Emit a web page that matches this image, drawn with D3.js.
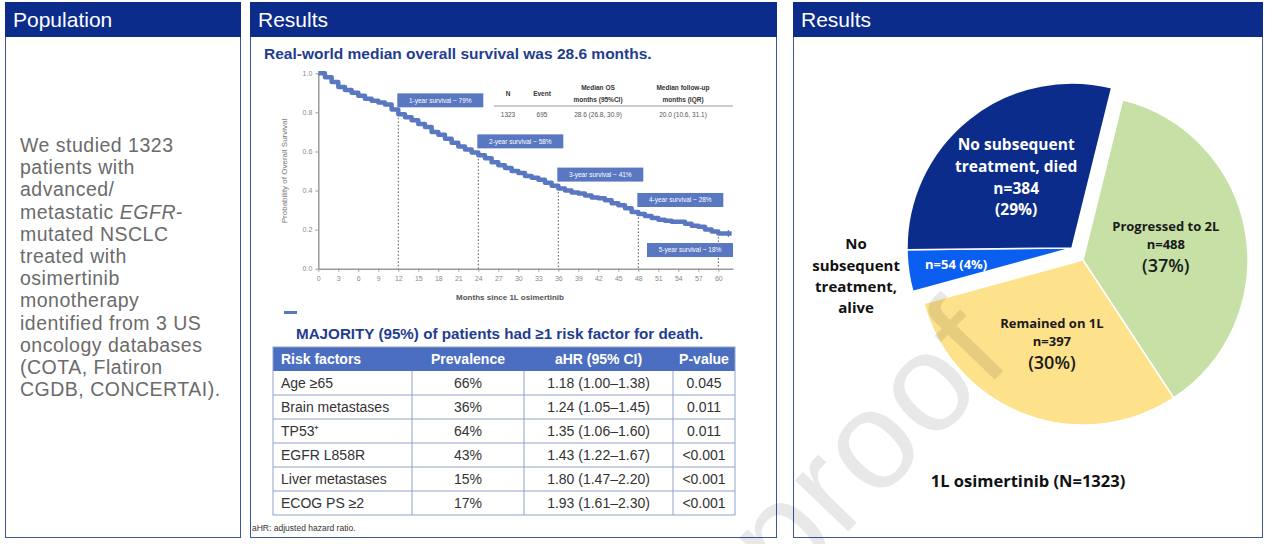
<!DOCTYPE html>
<html>
<head>
<meta charset="utf-8">
<script src="https://cdn.jsdelivr.net/npm/d3@7"></script>
<style>
  body { margin: 0; background: #fff; }
  svg { display: block; }
</style>
</head>
<body>
<div id="chart"></div>
<script>
// ---- data ----
const introLines = [
  "We studied 1323", "patients with", "advanced/", "metastatic EGFR-",
  "mutated NSCLC", "treated with", "osimertinib", "monotherapy",
  "identified from 3 US", "oncology databases", "(COTA, Flatiron",
  "CGDB, CONCERTAI)."
];

// Kaplan-Meier curve (month, survival probability)
const kmMonths = [0, 1, 2, 3, 4, 5, 6, 7, 8, 9, 10, 11, 12, 13, 14, 15, 16, 17, 18, 19, 20,
  21, 22, 23, 24, 25, 26, 27, 28, 29, 30, 31, 32, 33, 34, 35, 36, 37, 38, 39, 40, 41,
  42, 43, 44, 45, 46, 47, 48, 49, 50, 51, 52, 53, 54, 55, 56, 57, 58, 59, 60, 61, 62];
const kmSurv = [1.0, 0.98, 0.955, 0.93, 0.915, 0.90, 0.885, 0.87, 0.86, 0.85, 0.84, 0.815,
  0.79, 0.775, 0.76, 0.74, 0.725, 0.70, 0.685, 0.665, 0.645, 0.625, 0.61, 0.595, 0.58,
  0.565, 0.545, 0.53, 0.515, 0.50, 0.49, 0.475, 0.465, 0.455, 0.44, 0.425, 0.41, 0.40,
  0.39, 0.385, 0.375, 0.365, 0.36, 0.35, 0.335, 0.325, 0.31, 0.29, 0.28, 0.27, 0.26,
  0.25, 0.245, 0.24, 0.24, 0.23, 0.22, 0.215, 0.20, 0.19, 0.18, 0.18, 0.18];

const milestoneMonths = [12, 24, 36, 48, 60];
const milestoneLabels = ["1-year survival ~ 79%", "2-year survival ~ 58%", "3-year survival ~ 41%",
  "4-year survival ~ 28%", "5-year survival ~ 18%"];

const xTicks = d3.range(0, 61, 3);
const yTicks = [0, 0.2, 0.4, 0.6, 0.8, 1.0];

const summaryHead1 = ["N", "Event", "Median OS", "Median follow-up"];
const summaryHead2 = ["", "", "months (95%CI)", "months (IQR)"];
const summaryValues = ["1323", "695", "28.6 (26.8, 30.9)", "20.0 (10.6, 31.1)"];

const riskHeader = ["Risk factors", "Prevalence", "aHR (95% CI)", "P-value"];
const riskFactors = ["Age ≥65", "Brain metastases", "TP53⁺", "EGFR L858R", "Liver metastases", "ECOG PS ≥2"];
const prevalence = ["66%", "36%", "64%", "43%", "15%", "17%"];
const ahr = ["1.18 (1.00–1.38)", "1.24 (1.05–1.45)", "1.35 (1.06–1.60)", "1.43 (1.22–1.67)",
  "1.80 (1.47–2.20)", "1.93 (1.61–2.30)"];
const pValues = ["0.045", "0.011", "0.011", "<0.001", "<0.001", "<0.001"];

const pieGroups = ["Progressed to 2L", "Remained on 1L", "No subsequent treatment, alive", "No subsequent treatment, died"];
const pieCounts = [488, 397, 54, 384];
const pieTotal = 1323;

// ---- page ----
const W = 1280, H = 544;
const navy = "#0b2c8a";
const kmBlue = "#5a78c2";

const svg = d3.select("#chart").append("svg")
  .attr("width", W).attr("height", H)
  .style("font-family", "Arial, 'Liberation Sans', sans-serif");

// panels
const panels = [
  { x: 5, w: 235, title: "Population" },
  { x: 250, w: 526, title: "Results" },
  { x: 793, w: 469, title: "Results" }
];
panels.forEach(function (p) {
  svg.append("rect").attr("x", p.x + 0.5).attr("y", 2.5).attr("width", p.w).attr("height", 535)
    .attr("fill", "#fff").attr("stroke", "#3d5699").attr("stroke-width", 1);
  svg.append("rect").attr("x", p.x).attr("y", 2).attr("width", p.w + 1).attr("height", 35).attr("fill", navy);
  svg.append("text").attr("x", p.x + 8).attr("y", 27).attr("fill", "#fff")
    .attr("font-size", 21).text(p.title);
});

// ---- left panel text ----
const intro = svg.append("g");
introLines.forEach(function (line, i) {
  const t = intro.append("text").attr("x", 20).attr("y", 152 + i * 22.2)
    .attr("fill", "#6b6b6b").attr("font-size", 19.5).attr("letter-spacing", 0.5);
  if (line.indexOf("EGFR") >= 0) {
    const parts = line.split("EGFR");
    t.append("tspan").text(parts[0]);
    t.append("tspan").attr("font-style", "italic").text("EGFR");
    t.append("tspan").text(parts[1]);
  } else {
    t.text(line);
  }
});

// ---- KM chart ----
svg.append("text").attr("x", 264).attr("y", 59).attr("fill", "#1f3d8f")
  .attr("font-size", 15.5).attr("font-weight", "bold")
  .text("Real-world median overall survival was 28.6 months.");

const x = d3.scaleLinear().domain([0, 62.2]).range([318.3, 733]);
const y = d3.scaleLinear().domain([0, 1]).range([268.7, 73.3]);

const km = svg.append("g");

const xAxis = km.append("g").attr("transform", "translate(0," + y(0) + ")")
  .call(d3.axisBottom(x).tickValues(xTicks).tickSize(3).tickSizeOuter(0).tickFormat(d3.format("d")));
const yAxis = km.append("g").attr("transform", "translate(" + x(0) + ",0)")
  .call(d3.axisLeft(y).tickValues(yTicks).tickSize(3).tickSizeOuter(0).tickFormat(d3.format(".1f")));
[xAxis, yAxis].forEach(function (a) {
  a.select(".domain").attr("stroke", "#9a9a9a").attr("stroke-width", 1.5);
  a.selectAll(".tick line").attr("stroke", "#9a9a9a");
  a.selectAll(".tick text").attr("fill", "#8a8a8a").attr("font-size", 7).attr("font-family", "Arial, sans-serif");
});
xAxis.selectAll(".tick text").attr("dy", "0.9em");

km.append("text").attr("transform", "translate(287," + y(0.5) + ") rotate(-90)")
  .attr("text-anchor", "middle").attr("fill", "#777").attr("font-size", 8)
  .text("Probability of Overall Survival");
km.append("text").attr("x", 510).attr("y", 300).attr("text-anchor", "middle")
  .attr("fill", "#555").attr("font-size", 8).attr("font-weight", "bold")
  .text("Months since 1L osimertinib");

// dotted milestone lines
milestoneMonths.forEach(function (m) {
  const s = kmSurv[kmMonths.indexOf(m)];
  km.append("line").attr("x1", x(m)).attr("x2", x(m)).attr("y1", y(s)).attr("y2", y(0))
    .attr("stroke", "#555").attr("stroke-width", 1).attr("stroke-dasharray", "1.5,2");
});

const kmData = kmMonths.map(function (m, i) { return { m: m, s: kmSurv[i] }; });
km.append("path").datum(kmData)
  .attr("d", d3.line().curve(d3.curveStepAfter)
    .x(function (d) { return x(d.m); })
    .y(function (d) { return y(d.s); }))
  .attr("fill", "none").attr("stroke", kmBlue).attr("stroke-width", 4.5)
  .attr("stroke-linejoin", "round");
// censor ticks at the tail
km.append("line").attr("x1", x(61.5)).attr("x2", x(61.5)).attr("y1", y(0.18) - 3.5).attr("y2", y(0.18) + 3.5)
  .attr("stroke", kmBlue).attr("stroke-width", 1.2);

// milestone boxes
milestoneMonths.forEach(function (m, i) {
  const s = kmSurv[kmMonths.indexOf(m)];
  const bw = 86, bh = 14;
  const last = i === milestoneMonths.length - 1;
  const bx = last ? x(62.2) - bw : x(m) - 1;
  const by = last ? y(s) + 9.5 : y(s) - 7 - bh;
  km.append("rect").attr("x", bx).attr("y", by).attr("width", bw).attr("height", bh).attr("fill", kmBlue);
  km.append("text").attr("x", bx + bw / 2).attr("y", by + bh / 2 + 2.3).attr("text-anchor", "middle")
    .attr("fill", "#fff").attr("font-size", 6.5).text(milestoneLabels[i]);
});

// summary mini-table
const sumX = [508, 542, 598, 683];
summaryHead1.forEach(function (h, i) {
  const two = summaryHead2[i] !== "";
  km.append("text").attr("x", sumX[i]).attr("y", two ? 90 : 95.5).attr("text-anchor", "middle")
    .attr("fill", "#333").attr("font-size", 6.5).attr("font-weight", "bold").text(h);
  if (two) {
    km.append("text").attr("x", sumX[i]).attr("y", 102).attr("text-anchor", "middle")
      .attr("fill", "#333").attr("font-size", 6.5).attr("font-weight", "bold").text(summaryHead2[i]);
  }
  km.append("text").attr("x", sumX[i]).attr("y", 116.5).attr("text-anchor", "middle")
    .attr("fill", "#555").attr("font-size", 6.5).text(summaryValues[i]);
});
km.append("line").attr("x1", 494).attr("x2", 733).attr("y1", 106).attr("y2", 106)
  .attr("stroke", "#999").attr("stroke-width", 1);

// stray dash
svg.append("rect").attr("x", 284).attr("y", 311).attr("width", 13).attr("height", 3).attr("fill", kmBlue);

// ---- risk table ----
svg.append("text").attr("x", 296).attr("y", 338.5).attr("fill", "#1f3d8f")
  .attr("font-size", 15.2).attr("font-weight", "bold")
  .text("MAJORITY (95%) of patients had ≥1 risk factor for death.");

const colEdges = [273, 412, 524, 673, 735];
const rowY = d3.scaleBand().domain(d3.range(riskFactors.length + 1)).range([347, 515]);
const tbl = svg.append("g");
tbl.append("rect").attr("x", colEdges[0]).attr("y", rowY(0)).attr("width", colEdges[4] - colEdges[0])
  .attr("height", rowY.bandwidth()).attr("fill", "#4c6ec0");
tbl.append("rect").attr("x", colEdges[0]).attr("y", rowY(0)).attr("width", colEdges[4] - colEdges[0])
  .attr("height", rowY.range()[1] - rowY(0)).attr("fill", "none").attr("stroke", "#90a2cc");
d3.range(2, riskFactors.length + 1).forEach(function (r) {
  tbl.append("line").attr("x1", colEdges[0]).attr("x2", colEdges[4]).attr("y1", rowY(r)).attr("y2", rowY(r))
    .attr("stroke", "#90a2cc");
});
colEdges.slice(1, 4).forEach(function (cx) {
  tbl.append("line").attr("x1", cx).attr("x2", cx).attr("y1", rowY(1)).attr("y2", rowY.range()[1])
    .attr("stroke", "#90a2cc");
});
function cellX(c) { return c === 0 ? colEdges[0] + 8 : (colEdges[c] + colEdges[c + 1]) / 2; }
riskHeader.forEach(function (h, c) {
  tbl.append("text").attr("x", cellX(c)).attr("y", rowY(0) + rowY.bandwidth() / 2 + 5)
    .attr("text-anchor", c === 0 ? "start" : "middle").attr("fill", "#fff")
    .attr("font-size", 14).attr("font-weight", "bold").text(h);
});
riskFactors.forEach(function (rf, r) {
  const vals = [rf, prevalence[r], ahr[r], pValues[r]];
  vals.forEach(function (v, c) {
    tbl.append("text").attr("x", cellX(c)).attr("y", rowY(r + 1) + rowY.bandwidth() / 2 + 5)
      .attr("text-anchor", c === 0 ? "start" : "middle").attr("fill", "#333")
      .attr("font-size", 14).text(v);
  });
});
svg.append("text").attr("x", 252).attr("y", 531).attr("fill", "#333").attr("font-size", 8.5)
  .text("aHR: adjusted hazard ratio.");

// ---- pie ----
const pieColors = ["#c6e0a6", "#fde18b", "#0a5ff0", "#0b2c8a"];
const pieText = ["#1a1a1a", "#1a1a1a", "#fff", "#fff"];
const pieShift = [[5, 6], [5, 6], [-6, -6], [-6, -6]];
const labelR = [84, 88, 117, 90];
const pieC = [1078, 254];
const R = 165;
const startA = 13.9 * Math.PI / 180;

const pie = d3.pie().sort(null).startAngle(startA).endAngle(startA + 2 * Math.PI);
const arcs = pie(pieCounts);
const arc = d3.arc().innerRadius(0).outerRadius(R);

const pg = svg.append("g").attr("transform", "translate(" + pieC[0] + "," + pieC[1] + ")")
  .style("font-family", "'Open Sans', 'Noto Sans', sans-serif");

const slices = pg.selectAll("g.slice").data(arcs).enter().append("g")
  .attr("class", "slice")
  .attr("transform", function (d, i) { return "translate(" + pieShift[i][0] + "," + pieShift[i][1] + ")"; });
slices.append("path").attr("d", arc)
  .attr("fill", function (d, i) { return pieColors[i]; })
  .attr("stroke", "#fff").attr("stroke-width", 1.5);

function pct(n) { return Math.round(n / pieTotal * 100) + "%"; }
const labelLines = [
  [{ t: pieGroups[0], s: 13 }, { t: "n=" + pieCounts[0], s: 13 }, { t: "(" + pct(pieCounts[0]) + ")", s: 18, w: 600 }],
  [{ t: pieGroups[1], s: 13 }, { t: "n=" + pieCounts[1], s: 13 }, { t: "(" + pct(pieCounts[1]) + ")", s: 18, w: 600 }],
  [{ t: "n=" + pieCounts[2] + " (" + pct(pieCounts[2]) + ")", s: 13 }],
  [{ t: "No subsequent", s: 15.5 }, { t: "treatment, died", s: 15.5 }, { t: "n=" + pieCounts[3], s: 15.5 }, { t: "(" + pct(pieCounts[3]) + ")", s: 15.5 }]
];
const lineOffsets = [[-19, -1, 20], [-19, -1, 20], [0], [-32.5, -10.8, 11, 32.5]];

slices.each(function (d, i) {
  const c = d3.arc().innerRadius(labelR[i]).outerRadius(labelR[i]).centroid(d);
  const g = d3.select(this);
  labelLines[i].forEach(function (ln, k) {
    g.append("text").attr("x", c[0]).attr("y", c[1] + lineOffsets[i][k])
      .attr("dy", "0.35em").attr("text-anchor", "middle")
      .attr("fill", pieText[i]).attr("font-size", ln.s).attr("font-weight", ln.w || 700)
      .text(ln.t);
  });
});

// outside label for the small slice
const outer = d3.arc().innerRadius(218).outerRadius(218).centroid(arcs[2]);
const outerLines = ["No", "subsequent", "treatment,", "alive"];
outerLines.forEach(function (t, k) {
  pg.append("text").attr("x", outer[0] + pieShift[2][0]).attr("y", outer[1] + pieShift[2][1] - 2 + (k - 1.5) * 21.3)
    .attr("dy", "0.35em").attr("text-anchor", "middle").attr("fill", "#111")
    .attr("font-size", 15).attr("font-weight", 700).text(t);
});

pg.append("text").attr("x", 1028 - pieC[0]).attr("y", 481.5 - pieC[1]).attr("dy", "0.35em")
  .attr("text-anchor", "middle").attr("fill", "#111").attr("font-size", 16.5).attr("font-weight", 700)
  .text("1L osimertinib (N=" + pieTotal + ")");

// watermark
svg.append("text").attr("transform", "translate(786,596) rotate(-46)")
  .attr("font-size", 140).attr("letter-spacing", 2).attr("fill", "#000").attr("fill-opacity", 0.09)
  .attr("font-family", "Arial, sans-serif").text("proof");
</script>
</body>
</html>
